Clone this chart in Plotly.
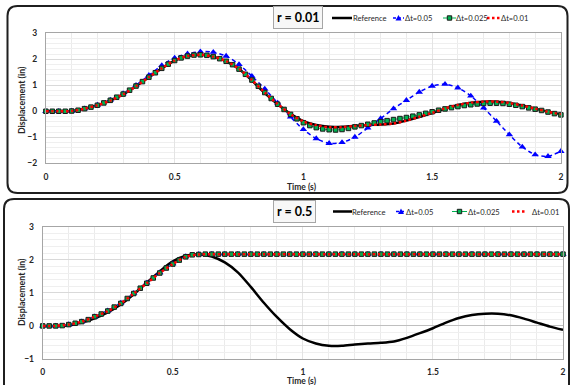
import numpy as np
import plotly.graph_objects as go

W, H = 570, 385

# ---------------- data ----------------
SERIES = ["Reference", "Δt=0.05", "Δt=0.025", "Δt=0.01"]
PANEL_TITLES = ["r = 0.01", "r = 0.5"]
X_TITLE = "Time (s)"
Y_TITLE = "Displacement (in)"

# time grids (s)
T_REF = np.linspace(0, 2, 41)     # reference curve read every 0.05 s
T_05 = np.linspace(0, 2, 41)      # dt = 0.05
T_025 = np.linspace(0, 2, 81)     # dt = 0.025
T_01 = np.linspace(0, 2, 41)      # dt = 0.01 curve, read every 0.05 s

REFERENCE = [0, 0, 0.01, 0.1, 0.23, 0.41, 0.65, 0.96, 1.31, 1.65,
             1.95, 2.12, 2.17, 2.1, 1.92, 1.62, 1.18, 0.7, 0.27, -0.1,
             -0.38, -0.53, -0.6, -0.6, -0.56, -0.53, -0.51, -0.47, -0.36, -0.22,
             -0.07, 0.1, 0.24, 0.33, 0.37, 0.37, 0.32, 0.22, 0.1, -0.02,
             -0.12]

# r = 0.01 panel
TOP_DT05 = [0, 0, 0.01, 0.1, 0.24, 0.43, 0.68, 1.0, 1.38, 1.76,
            2.05, 2.21, 2.29, 2.27, 2.12, 1.8, 1.35, 0.86, 0.32, -0.22,
            -0.7, -1.05, -1.23, -1.2, -0.99, -0.64, -0.28, 0.1, 0.42, 0.74,
            0.97, 1.04, 0.9, 0.59, 0.13, -0.38, -0.9, -1.37, -1.67, -1.73,
            -1.54]
TOP_DT025 = [0, 0, 0, 0, 0.01, 0.04, 0.1, 0.16, 0.23, 0.32,
             0.42, 0.54, 0.66, 0.81, 0.97, 1.14, 1.31, 1.48, 1.65, 1.81,
             1.95, 2.05, 2.12, 2.16, 2.17, 2.15, 2.1, 2.02, 1.92, 1.79,
             1.62, 1.42, 1.2, 0.96, 0.72, 0.49, 0.27, 0.07, -0.12, -0.29,
             -0.44, -0.55, -0.63, -0.68, -0.71, -0.72, -0.7, -0.66, -0.6, -0.55,
             -0.5, -0.45, -0.4, -0.36, -0.32, -0.28, -0.24, -0.19, -0.14, -0.08,
             -0.02, 0.04, 0.09, 0.14, 0.18, 0.22, 0.25, 0.28, 0.3, 0.31,
             0.31, 0.3, 0.27, 0.23, 0.18, 0.13, 0.08, 0.03, -0.03, -0.09,
             -0.14]
TOP_DT01 = [0, 0, 0.01, 0.1, 0.23, 0.41, 0.65, 0.96, 1.31, 1.65,
            1.95, 2.12, 2.17, 2.1, 1.93, 1.63, 1.2, 0.72, 0.28, -0.11,
            -0.39, -0.54, -0.61, -0.61, -0.57, -0.53, -0.51, -0.47, -0.36, -0.21,
            -0.06, 0.11, 0.24, 0.33, 0.37, 0.37, 0.32, 0.22, 0.1, -0.02,
            -0.12]

# r = 0.5 panel
BOT_DT05 = [0, 0, 0.04, 0.13, 0.28, 0.46, 0.69, 0.99, 1.3, 1.61,
            1.88, 2.1, 2.17, 2.17, 2.17, 2.17, 2.17, 2.17, 2.17, 2.17,
            2.17, 2.17, 2.17, 2.17, 2.17, 2.17, 2.17, 2.17, 2.17, 2.17,
            2.17, 2.17, 2.17, 2.17, 2.17, 2.17, 2.17, 2.17, 2.17, 2.17,
            2.17]
BOT_DT025 = [0, 0, 0, 0.01, 0.04, 0.08, 0.13, 0.19, 0.28, 0.36,
             0.45, 0.57, 0.68, 0.83, 0.98, 1.14, 1.29, 1.45, 1.6, 1.75,
             1.87, 1.99, 2.09, 2.15, 2.16, 2.17, 2.17, 2.17, 2.17, 2.17,
             2.17, 2.17, 2.17, 2.17, 2.17, 2.17, 2.17, 2.17, 2.17, 2.17,
             2.17, 2.17, 2.17, 2.17, 2.17, 2.17, 2.17, 2.17, 2.17, 2.17,
             2.17, 2.17, 2.17, 2.17, 2.17, 2.17, 2.17, 2.17, 2.17, 2.17,
             2.17, 2.17, 2.17, 2.17, 2.17, 2.17, 2.17, 2.17, 2.17, 2.17,
             2.17, 2.17, 2.17, 2.17, 2.17, 2.17, 2.17, 2.17, 2.17, 2.17,
             2.17]
BOT_DT01 = [0, 0, 0.04, 0.13, 0.28, 0.45, 0.68, 0.98, 1.29, 1.6,
            1.87, 2.09, 2.16, 2.17, 2.17, 2.17, 2.17, 2.17, 2.17, 2.17,
            2.17, 2.17, 2.17, 2.17, 2.17, 2.17, 2.17, 2.17, 2.17, 2.17,
            2.17, 2.17, 2.17, 2.17, 2.17, 2.17, 2.17, 2.17, 2.17, 2.17,
            2.17]

assert len(REFERENCE) == 41 and len(TOP_DT05) == 41 and len(TOP_DT01) == 41
assert len(TOP_DT025) == 81 and len(BOT_DT025) == 81
assert len(BOT_DT05) == 41 and len(BOT_DT01) == 41

# ---------------- styles ----------------
BLACK = "#000000"
BLUE = "#0000ff"
GREEN = "#00b050"
RED = "#ff0000"
FONT = "Lato"
TXT = "#262626"


def px_x(px):
    return px / W


def px_y(py):
    return 1 - py / H


fig = go.Figure()


def add_panel(xa, ya, ref, d05, d025, d01):
    fig.add_trace(go.Scatter(x=T_REF, y=ref, mode="lines", name=SERIES[0],
                             line=dict(color=BLACK, width=2.5, shape="spline", smoothing=0.8),
                             xaxis=xa, yaxis=ya, showlegend=False, cliponaxis=False))
    fig.add_trace(go.Scatter(x=T_05, y=d05, mode="lines+markers", name=SERIES[1],
                             line=dict(color=BLUE, width=1.5, dash="4px,3px", shape="spline", smoothing=0.8),
                             marker=dict(symbol="triangle-up", size=6.5, color=BLUE),
                             xaxis=xa, yaxis=ya, showlegend=False, cliponaxis=False))
    fig.add_trace(go.Scatter(x=T_025, y=d025, mode="lines+markers", name=SERIES[2],
                             line=dict(color=GREEN, width=1, shape="spline", smoothing=0.8),
                             marker=dict(symbol="square", size=4.5, color=GREEN,
                                         line=dict(color="#1a1a1a", width=1)),
                             xaxis=xa, yaxis=ya, showlegend=False, cliponaxis=False))
    fig.add_trace(go.Scatter(x=T_01, y=d01, mode="lines", name=SERIES[3],
                             line=dict(color=RED, width=2.5, dash="2.5px,2.5px", shape="spline", smoothing=0.8),
                             xaxis=xa, yaxis=ya, showlegend=False, cliponaxis=False))


add_panel("x", "y", REFERENCE, TOP_DT05, TOP_DT025, TOP_DT01)
add_panel("x2", "y2", REFERENCE, BOT_DT05, BOT_DT025, BOT_DT01)

tickfont = dict(family=FONT, size=8.5, color=TXT, weight="bold")
titlefont = dict(family=FONT, size=8.5, color=TXT, weight="bold")


def xaxis(domain, anchor):
    return dict(domain=domain, anchor=anchor, range=[0, 2], tickmode="linear", tick0=0, dtick=0.5,
                showgrid=True, gridcolor="#e4e4e4", gridwidth=1,
                minor=dict(dtick=0.1, tick0=0, showgrid=True, gridcolor="#ebebeb", gridwidth=1),
                showline=True, mirror=True, linecolor="#a6a6a6", linewidth=1,
                zeroline=False, ticks="", tickfont=tickfont, ticklabelstandoff=5,
                automargin=False)


def yaxis(domain, anchor, rng):
    return dict(domain=domain, anchor=anchor, range=rng, tickmode="linear", tick0=0, dtick=1,
                showgrid=True, gridcolor="#d9d9d9", gridwidth=1,
                minor=dict(dtick=0.2, tick0=0, showgrid=True, gridcolor="#efefef", gridwidth=1),
                showline=True, mirror=True, linecolor="#a6a6a6", linewidth=1,
                zeroline=True, zerolinecolor="#bfbfbf", zerolinewidth=1,
                ticks="", tickfont=tickfont, ticklabelstandoff=6, automargin=False)


# plot-area placement (pixels -> paper)
top_x = [px_x(45.9), px_x(560.9)]
top_y = [px_y(163.3), px_y(33.2)]
bot_x = [px_x(42.7), px_x(563.0)]
bot_y = [px_y(359.0), px_y(226.7)]


def rrect(x0, y0, x1, y1, r):
    X, Y = px_x, px_y
    return (f"M {X(x0 + r)},{Y(y0)} L {X(x1 - r)},{Y(y0)} Q {X(x1)},{Y(y0)} {X(x1)},{Y(y0 + r)} "
            f"L {X(x1)},{Y(y1 - r)} Q {X(x1)},{Y(y1)} {X(x1 - r)},{Y(y1)} "
            f"L {X(x0 + r)},{Y(y1)} Q {X(x0)},{Y(y1)} {X(x0)},{Y(y1 - r)} "
            f"L {X(x0)},{Y(y0 + r)} Q {X(x0)},{Y(y0)} {X(x0 + r)},{Y(y0)} Z")


shapes = [
    dict(type="path", xref="paper", yref="paper", path=rrect(7.5, 6, 567.5, 193, 10),
         line=dict(color="#1f1f1f", width=2), layer="below"),
    dict(type="path", xref="paper", yref="paper", path=rrect(4, 199, 569, 400, 10),
         line=dict(color="#1f1f1f", width=2), layer="below"),
]
annotations = []

# axis titles
for cx, cy in [(302, 186.5), (302, 381)]:
    annotations.append(dict(x=px_x(cx), y=px_y(cy), xref="paper", yref="paper", text=X_TITLE,
                            showarrow=False, xanchor="center", yanchor="middle", font=titlefont))
for cx, cy in [(22, 100), (21, 292)]:
    annotations.append(dict(x=px_x(cx), y=px_y(cy), xref="paper", yref="paper", text=Y_TITLE,
                            showarrow=False, xanchor="center", yanchor="middle", textangle=-90,
                            font=dict(family=FONT, size=8.8, color=TXT, weight="bold")))

# panel labels
for (cx, cy), txt in zip([(298, 17.5), (294.5, 212)], PANEL_TITLES):
    annotations.append(dict(x=px_x(cx), y=px_y(cy), xref="paper", yref="paper", text=txt,
                            showarrow=False, xanchor="center", yanchor="middle",
                            font=dict(family=FONT, size=12.5, color="#000000", weight="bold"),
                            bgcolor="#f7f7f7", bordercolor="#a6a6a6", borderwidth=1, borderpad=3))

# custom compact legends: (sample start, sample end, text x)
LEG_TOP = dict(y=18, items=[(332, 352, 352), (393, 404, 404), (443, 456, 455), (487, 500, 500)])
LEG_BOT = dict(y=211.5, items=[(333, 352, 351), (396, 406, 405), (452, 467, 467), (512, 527, 531)])


def add_legend(leg):
    y = leg["y"]
    for i, (a, b, tx) in enumerate(leg["items"]):
        Y0 = px_y(y)
        if i == 0:
            shapes.append(dict(type="line", xref="paper", yref="paper", x0=px_x(a), x1=px_x(b), y0=Y0, y1=Y0,
                               line=dict(color=BLACK, width=2.5), layer="above"))
        elif i == 1:
            shapes.append(dict(type="line", xref="paper", yref="paper", x0=px_x(a), x1=px_x(b), y0=Y0, y1=Y0,
                               line=dict(color=BLUE, width=1.5, dash="3px,2px"), layer="above"))
            m = (a + b) / 2
            shapes.append(dict(type="path", xref="paper", yref="paper",
                               path=f"M {px_x(m - 3)},{px_y(y + 2.5)} L {px_x(m + 3)},{px_y(y + 2.5)} L {px_x(m)},{px_y(y - 3)} Z",
                               fillcolor=BLUE, line=dict(width=0), layer="above"))
        elif i == 2:
            shapes.append(dict(type="line", xref="paper", yref="paper", x0=px_x(a), x1=px_x(b), y0=Y0, y1=Y0,
                               line=dict(color=GREEN, width=1), layer="above"))
            m = (a + b) / 2
            shapes.append(dict(type="rect", xref="paper", yref="paper", x0=px_x(m - 2.2), x1=px_x(m + 2.2),
                               y0=px_y(y + 2.2), y1=px_y(y - 2.2), fillcolor=GREEN,
                               line=dict(color="#1a1a1a", width=1), layer="above"))
        else:
            shapes.append(dict(type="line", xref="paper", yref="paper", x0=px_x(a), x1=px_x(b), y0=Y0, y1=Y0,
                               line=dict(color=RED, width=2.5, dash="2.5px,2.5px"), layer="above"))
        annotations.append(dict(x=px_x(tx), y=Y0, xref="paper", yref="paper", text=SERIES[i],
                                showarrow=False, xanchor="left", yanchor="middle", borderpad=0,
                                font=dict(family=FONT, size=7.6, color=TXT)))


add_legend(LEG_TOP)
add_legend(LEG_BOT)

fig.update_layout(
    width=W, height=H, autosize=False, template="none",
    margin=dict(l=0, r=0, t=0, b=0, pad=0),
    paper_bgcolor="white", plot_bgcolor="white", showlegend=False,
    xaxis=xaxis(top_x, "y"), yaxis=yaxis(top_y, "x", [-2, 3]),
    xaxis2=xaxis(bot_x, "y2"), yaxis2=yaxis(bot_y, "x2", [-1, 3]),
    shapes=shapes, annotations=annotations,
)

fig.write_html("out.html")
